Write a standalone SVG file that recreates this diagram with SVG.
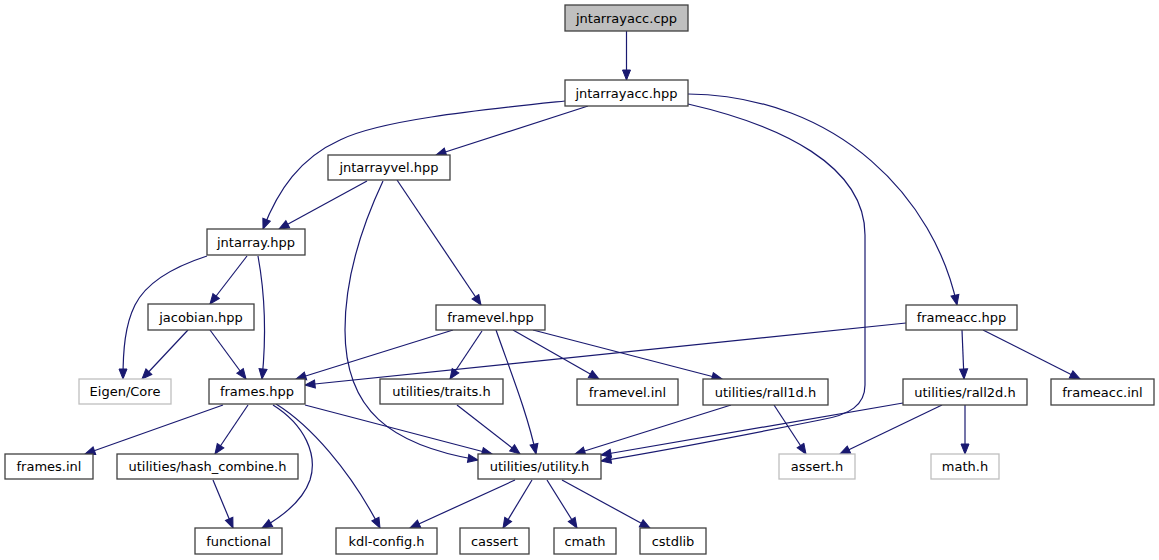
<svg xmlns="http://www.w3.org/2000/svg" width="1159" height="560" viewBox="0 0 1159 560">
<style>
.n rect{fill:#ffffff;stroke:#404040;stroke-width:1.3}
.n.root rect{fill:#bfbfbf}
.n.ext rect{stroke:#bfbfbf}
.n text{font-family:"DejaVu Sans",sans-serif;font-size:13px;fill:#000000;text-anchor:middle}
.e path{fill:none;stroke:#191970;stroke-width:1.2;marker-end:url(#ah)}
</style>
<defs>
<marker id="ah" markerUnits="userSpaceOnUse" markerWidth="13" markerHeight="11" refX="11" refY="5" orient="auto" viewBox="0 0 13 11">
<path d="M1,1 L11,5 L1,9 Z" fill="#191970" stroke="#191970" stroke-width="1"/>
</marker>
</defs>
<rect width="1159" height="560" fill="#ffffff"/>
<g id="edges" class="e">
<path d="M626.5,31 L626.5,80"/>
<path d="M588,106 L436,155"/>
<path d="M565,101 C480,110 380,120 340,140 C300,158 278,190 263,229"/>
<path d="M688,104 C780,125 865,165 865,235 L865,385 C865,405 850,415 820,420 C760,432 680,448 601,461"/>
<path d="M688,94 C840,96 935,200 957,305"/>
<path d="M367,181 L279,229"/>
<path d="M383,181 C360,230 345,280 345,330 C345,410 390,445 478,460"/>
<path d="M397,180 L481,305"/>
<path d="M207,256 C170,268 145,285 135,305 C125,325 123,350 123,379"/>
<path d="M247,256 L210,304"/>
<path d="M258,256 C266,300 266,340 262,379"/>
<path d="M188,330 L142,379"/>
<path d="M210,330 L246,379"/>
<path d="M453,330 L296,379"/>
<path d="M906,323 L305,385"/>
<path d="M482,331 L450,379"/>
<path d="M496,330 C510,370 528,415 536,454"/>
<path d="M513,330 L599,379"/>
<path d="M533,330 L722,379"/>
<path d="M223,405 L85,454"/>
<path d="M248,405 L215,454"/>
<path d="M273,405 C305,425 318,455 310,480 C303,500 285,515 262,528"/>
<path d="M276,404 C310,425 350,470 380,528"/>
<path d="M305,405 L492,454"/>
<path d="M457,405 L520,454"/>
<path d="M213,480 L233,528"/>
<path d="M731,405 L575,454"/>
<path d="M774,405 L806,454"/>
<path d="M942,405 L840,454"/>
<path d="M903,403 L601,455"/>
<path d="M965,405 L965,454"/>
<path d="M962,330 L964,379"/>
<path d="M983,330 L1080,379"/>
<path d="M515,480 L410,528"/>
<path d="M532,480 L503,528"/>
<path d="M547,480 L577,528"/>
<path d="M562,480 L650,528"/>
</g>
<g id="n_cpp" class="n root"><rect x="565" y="5" width="123" height="26"/><text x="626.5" y="22.5">jntarrayacc.cpp</text></g>
<g id="n_hpp" class="n"><rect x="565" y="80" width="123" height="26"/><text x="626.5" y="97.5">jntarrayacc.hpp</text></g>
<g id="n_jntarrayvel" class="n"><rect x="328" y="155" width="122" height="25"/><text x="389" y="172">jntarrayvel.hpp</text></g>
<g id="n_jntarray" class="n"><rect x="207" y="229" width="98" height="26"/><text x="256" y="246.5">jntarray.hpp</text></g>
<g id="n_jacobian" class="n"><rect x="148" y="304" width="106" height="26"/><text x="201" y="321.5">jacobian.hpp</text></g>
<g id="n_eigen" class="n ext"><rect x="79" y="379" width="92" height="25"/><text x="125" y="396">Eigen/Core</text></g>
<g id="n_frames" class="n"><rect x="209" y="379" width="96" height="25"/><text x="257" y="396">frames.hpp</text></g>
<g id="n_framevel" class="n"><rect x="436" y="305" width="109" height="25"/><text x="490.5" y="322">framevel.hpp</text></g>
<g id="n_traits" class="n"><rect x="380" y="379" width="123" height="25"/><text x="441.5" y="396">utilities/traits.h</text></g>
<g id="n_framevelinl" class="n"><rect x="577" y="379" width="101" height="26"/><text x="627.5" y="396.5">framevel.inl</text></g>
<g id="n_rall1d" class="n"><rect x="703" y="379" width="125" height="26"/><text x="765.5" y="396.5">utilities/rall1d.h</text></g>
<g id="n_frameacc" class="n"><rect x="906" y="305" width="111" height="25"/><text x="961.5" y="322">frameacc.hpp</text></g>
<g id="n_rall2d" class="n"><rect x="903" y="379" width="124" height="26"/><text x="965" y="396.5">utilities/rall2d.h</text></g>
<g id="n_frameaccinl" class="n"><rect x="1051" y="379" width="103" height="26"/><text x="1102.5" y="396.5">frameacc.inl</text></g>
<g id="n_math" class="n ext"><rect x="931" y="454" width="68" height="25"/><text x="965" y="471">math.h</text></g>
<g id="n_assert" class="n ext"><rect x="779" y="454" width="76" height="25"/><text x="817" y="471">assert.h</text></g>
<g id="n_utility" class="n"><rect x="478" y="454" width="123" height="25"/><text x="539.5" y="471">utilities/utility.h</text></g>
<g id="n_framesinl" class="n"><rect x="5" y="454" width="88" height="25"/><text x="49" y="471">frames.inl</text></g>
<g id="n_hash" class="n"><rect x="117" y="454" width="181" height="25"/><text x="207.5" y="471">utilities/hash_combine.h</text></g>
<g id="n_functional" class="n"><rect x="195" y="528" width="87" height="26"/><text x="238.5" y="545.5">functional</text></g>
<g id="n_kdl" class="n"><rect x="336" y="528" width="101" height="26"/><text x="386.5" y="545.5">kdl-config.h</text></g>
<g id="n_cassert" class="n"><rect x="460" y="528" width="69" height="26"/><text x="494.5" y="545.5">cassert</text></g>
<g id="n_cmath" class="n"><rect x="554" y="528" width="62" height="26"/><text x="585" y="545.5">cmath</text></g>
<g id="n_cstdlib" class="n"><rect x="640" y="528" width="66" height="26"/><text x="673" y="545.5">cstdlib</text></g>
</svg>
